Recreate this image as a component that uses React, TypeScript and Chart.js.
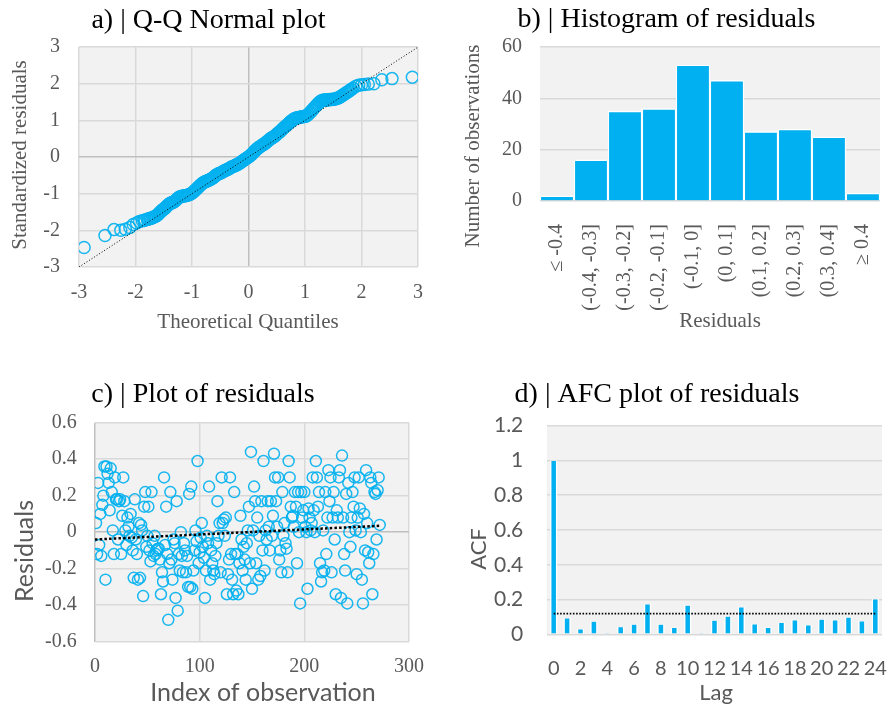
import React, { useEffect, useRef } from 'react';
import { Chart, registerables } from 'chart.js';
Chart.register(...registerables);

// ---------- DATA ----------
// a) Q-Q plot: [theoretical quantile, standardized residual]
const qqPairs = [
  [-2.91, -2.47], [-2.54, -2.14], [-2.38, -1.98], [-2.26, -2.0], [-2.18, -1.97], [-2.1, -1.92],
  [-2.04, -1.84], [-1.98, -1.8], [-1.93, -1.76], [-1.88, -1.74], [-1.85, -1.73], [-1.83, -1.72],
  [-1.79, -1.7], [-1.77, -1.69], [-1.75, -1.68], [-1.73, -1.67], [-1.71, -1.66], [-1.69, -1.65],
  [-1.67, -1.63], [-1.65, -1.62], [-1.63, -1.6], [-1.61, -1.58], [-1.6, -1.56], [-1.58, -1.53],
  [-1.56, -1.5], [-1.54, -1.47], [-1.53, -1.45], [-1.51, -1.43], [-1.5, -1.42], [-1.48, -1.4],
  [-1.47, -1.38], [-1.45, -1.35], [-1.44, -1.33], [-1.42, -1.31], [-1.41, -1.29], [-1.39, -1.27],
  [-1.38, -1.26], [-1.36, -1.25], [-1.35, -1.24], [-1.33, -1.23], [-1.32, -1.22],
  [-1.30, -1.2], [-1.28, -1.17], [-1.26, -1.14], [-1.24, -1.11], [-1.22, -1.09], [-1.20, -1.08],
  [-1.18, -1.07], [-1.16, -1.065], [-1.14, -1.06], [-1.12, -1.055], [-1.10, -1.05], [-1.08, -1.04],
  [-1.06, -1.03], [-1.04, -1.02], [-1.02, -1.0], [-1.00, -0.98], [-0.98, -0.96], [-0.96, -0.93],
  [-0.94, -0.9], [-0.92, -0.87], [-0.90, -0.84], [-0.88, -0.81], [-0.86, -0.78], [-0.84, -0.75],
  [-0.82, -0.72], [-0.80, -0.7], [-0.78, -0.68], [-0.76, -0.67], [-0.74, -0.66], [-0.72, -0.64],
  [-0.70, -0.63], [-0.68, -0.61], [-0.66, -0.6], [-0.64, -0.58], [-0.62, -0.56], [-0.60, -0.53],
  [-0.58, -0.5], [-0.56, -0.48], [-0.54, -0.46], [-0.52, -0.45], [-0.50, -0.44], [-0.48, -0.42],
  [-0.46, -0.41], [-0.44, -0.39], [-0.42, -0.37], [-0.40, -0.36], [-0.38, -0.34], [-0.36, -0.33],
  [-0.34, -0.31], [-0.32, -0.29], [-0.30, -0.27], [-0.28, -0.26], [-0.26, -0.25], [-0.24, -0.23],
  [-0.22, -0.22], [-0.20, -0.2], [-0.18, -0.19], [-0.16, -0.17], [-0.14, -0.15], [-0.12, -0.13],
  [-0.10, -0.1], [-0.08, -0.08], [-0.06, -0.06], [-0.04, -0.04], [-0.02, -0.02], [0.0, 0.0],
  [0.02, 0.03], [0.04, 0.05], [0.06, 0.08], [0.08, 0.11], [0.10, 0.15], [0.12, 0.18],
  [0.14, 0.21], [0.16, 0.23], [0.18, 0.26], [0.20, 0.28], [0.22, 0.3], [0.24, 0.32],
  [0.26, 0.34], [0.28, 0.36], [0.30, 0.38], [0.32, 0.41], [0.34, 0.44], [0.36, 0.46],
  [0.38, 0.49], [0.40, 0.51], [0.42, 0.53], [0.44, 0.55], [0.46, 0.57], [0.48, 0.59],
  [0.50, 0.62], [0.52, 0.65], [0.54, 0.67], [0.56, 0.7], [0.58, 0.73], [0.60, 0.76],
  [0.62, 0.79], [0.64, 0.82], [0.66, 0.84], [0.68, 0.87], [0.70, 0.9], [0.72, 0.93],
  [0.74, 0.96], [0.76, 0.98], [0.78, 1.01], [0.80, 1.03], [0.82, 1.05], [0.84, 1.06],
  [0.86, 1.07], [0.88, 1.075], [0.90, 1.08], [0.92, 1.09], [0.94, 1.095], [0.96, 1.1],
  [0.98, 1.105], [1.00, 1.11], [1.02, 1.12], [1.04, 1.14], [1.06, 1.17], [1.08, 1.2],
  [1.10, 1.23], [1.12, 1.27], [1.14, 1.3], [1.16, 1.34], [1.18, 1.37], [1.20, 1.4],
  [1.22, 1.44], [1.24, 1.47], [1.26, 1.5], [1.28, 1.52], [1.30, 1.54], [1.32, 1.55],
  [1.34, 1.555], [1.36, 1.56], [1.38, 1.56], [1.40, 1.56], [1.42, 1.565], [1.44, 1.57],
  [1.46, 1.57], [1.48, 1.57], [1.50, 1.575], [1.52, 1.58], [1.54, 1.59], [1.56, 1.6],
  [1.58, 1.61], [1.60, 1.62], [1.62, 1.64], [1.64, 1.66], [1.66, 1.68], [1.68, 1.7],
  [1.70, 1.72], [1.72, 1.74], [1.74, 1.76], [1.76, 1.78], [1.78, 1.8], [1.80, 1.82],
  [1.82, 1.85], [1.85, 1.88], [1.9, 1.93], [1.95, 1.96], [2.0, 1.97], [2.05, 1.98],
  [2.12, 1.99], [2.22, 2.0], [2.36, 2.11], [2.54, 2.14], [2.9, 2.18],
];
const qqDiagonal = [-3, 3];

// b) Histogram of residuals
const histBins = ['≤ -0.4', '(-0.4, -0.3]', '(-0.3, -0.2]', '(-0.2, -0.1]', '(-0.1, 0]', '(0, 0.1]', '(0.1, 0.2]', '(0.2, 0.3]', '(0.3, 0.4]', '≥ 0.4'];
const histCounts = [2, 16, 35, 36, 53, 47, 27, 28, 25, 3];

// c) Residuals by observation index (index = position + 1)
const residuals = [
  0.05, -0.12, 0.27, -0.07, 0.1, -0.13, 0.15, 0.2, 0.36, -0.26,
  0.36, 0.32, 0.27, 0.12, 0.35, 0.22, 0.01, -0.12, 0.3, 0.18,
  0.18, -0.04, 0.17, 0.18, -0.12, 0.09, 0.3, 0.17, 0.01, -0.07,
  0.08, 0.03, -0.02, 0.1, -0.03, -0.1, -0.25, 0.18, -0.04, -0.12,
  -0.26, 0.05, -0.25, 0.04, 0.01, -0.35, 0.14, 0.22, -0.08, -0.02,
  0.14, -0.1, -0.16, 0.22, -0.06, -0.13, -0.02, -0.12, -0.1, -0.09,
  -0.09, -0.15, -0.34, -0.22, -0.27, 0.3, -0.07, 0.14, -0.12, -0.48,
  -0.17, 0.22, -0.15, -0.26, -0.04, -0.06, -0.36, 0.17, -0.43, -0.12,
  -0.21, 0.0, -0.13, -0.22, -0.06, -0.1, -0.22, -0.13, -0.3, 0.21,
  -0.3, 0.25, -0.31, -0.21, -0.1, 0.01, -0.05, 0.39, -0.17, -0.11,
  -0.03, 0.05, -0.08, -0.14, -0.36, -0.21, -0.02, -0.06, 0.25, -0.26,
  -0.1, -0.17, -0.21, -0.23, -0.13, -0.06, 0.17, -0.02, 0.05, -0.22,
  0.3, 0.05, 0.07, -0.02, 0.08, -0.34, -0.23, -0.15, 0.3, -0.12,
  -0.26, -0.34, 0.22, -0.12, -0.32, -0.12, -0.34, -0.17, 0.09, -0.04,
  -0.21, -0.08, -0.15, -0.26, -0.06, 0.01, 0.14, -0.17, 0.44, -0.31,
  0.01, 0.25, 0.17, -0.17, 0.08, -0.26, -0.02, -0.24, 0.17, -0.1,
  0.39, -0.21, 0.01, -0.04, 0.17, 0.03, -0.1, 0.17, -0.02, 0.09,
  0.43, 0.3, 0.17, 0.03, 0.3, -0.15, -0.1, -0.22, 0.22, -0.02,
  0.05, -0.06, -0.09, -0.22, 0.39, 0.3, 0.14, 0.08, 0.09, 0.03,
  0.22, 0.14, -0.17, 0.22, 0.0, -0.39, 0.22, 0.08, 0.12, 0.22,
  0.03, 0.0, -0.31, 0.13, 0.08, 0.01, 0.05, 0.3, 0.12, 0.0,
  0.39, 0.3, 0.14, 0.22, -0.17, -0.27, -0.22, 0.01, -0.21, 0.22,
  -0.12, 0.08, 0.34, 0.17, 0.3, -0.22, 0.08, 0.22, -0.04, -0.34,
  0.12, 0.08, 0.3, 0.34, -0.36, 0.42, 0.08, -0.12, -0.21, 0.21,
  -0.39, 0.27, 0.0, -0.08, 0.08, 0.22, 0.14, 0.3, 0.01, -0.23,
  0.08, 0.3, 0.13, 0.0, -0.26, -0.39, 0.1, -0.1, 0.34, 0.05,
  -0.11, -0.17, 0.3, 0.27, -0.34, -0.12, 0.22, 0.21, -0.04, 0.23, 0.3, 0.04,
];
const trendX = [0, 272];
const trendY = [-0.04, 0.035];

// d) ACF
const lags = ['0', '1', '2', '3', '4', '5', '6', '7', '8', '9', '10', '11', '12', '13', '14', '15', '16', '17', '18', '19', '20', '21', '22', '23', '24'];
const acfValues = [1.0, 0.094, 0.031, 0.075, 0.008, 0.044, 0.058, 0.175, 0.058, 0.039, 0.168, 0.008, 0.081, 0.104, 0.158, 0.06, 0.04, 0.068, 0.083, 0.054, 0.087, 0.083, 0.098, 0.077, 0.204];
const acfBound = 0.119;

// ---------- STYLE ----------
const SERIF = "'Liberation Serif', 'Times New Roman', serif";
const SANS = "Lato, 'Noto Sans', sans-serif";
const GREY = '#595959';
const GRID = '#d9d9d9';
const GRID_DARK = '#bfbfbf';
const BLUE = '#00b0f0';
const PLOT_BG = '#f2f2f2';

const bgPlugin = {
  id: 'plotBg',
  beforeDraw(chart: any) {
    const { ctx, chartArea } = chart;
    ctx.save();
    ctx.fillStyle = PLOT_BG;
    ctx.fillRect(chartArea.left, chartArea.top, chartArea.right - chartArea.left, chartArea.bottom - chartArea.top);
    ctx.restore();
  },
};

function axisTitles(items: any[]) {
  return {
    id: 'axisTitles',
    afterDraw(chart: any) {
      const ctx = chart.ctx;
      for (const it of items) {
        ctx.save();
        ctx.translate(it.x, it.y);
        if (it.rot) ctx.rotate(it.rot);
        ctx.font = `${it.size}px ${it.family}`;
        ctx.fillStyle = GREY;
        ctx.textAlign = 'center';
        ctx.textBaseline = 'middle';
        ctx.fillText(it.text, 0, 0);
        ctx.restore();
      }
    },
  };
}

const zeroGrid = (ctx: any) => (ctx.tick && ctx.tick.value === 0 ? GRID_DARK : GRID);
const fmt1 = (v: any) => String(Math.round(Number(v) * 10) / 10);

function titleOpts(text: string, top: number, bottom: number) {
  return {
    display: true,
    text,
    color: '#000',
    font: { family: SERIF, size: 28, weight: 'normal' },
    padding: { top, bottom },
  };
}

// ---------- CONFIGS ----------
function configA() {
  return {
    type: 'scatter',
    data: {
      datasets: [
        {
          type: 'line',
          data: qqDiagonal.map((v) => ({ x: v, y: v })),
          borderColor: '#000',
          borderWidth: 1,
          borderDash: [1, 2],
          pointRadius: 0,
          fill: false,
          order: 0,
        },
        {
          data: qqPairs.map(([x, y]) => ({ x, y })),
          pointRadius: 6,
          pointBorderWidth: 1.5,
          pointBorderColor: 'rgba(0,176,240,0.9)',
          pointBackgroundColor: 'rgba(0,0,0,0)',
          order: 1,
        },
      ],
    },
    options: {
      animation: false,
      responsive: false,
      layout: { padding: { left: 0, right: 10, top: 0, bottom: 0 }, autoPadding: false },
      plugins: { legend: { display: false }, tooltip: { enabled: false }, title: titleOpts('a) | Q-Q Normal plot', 3.5, 10) },
      scales: {
        x: {
          type: 'linear', min: -3, max: 3,
          ticks: { stepSize: 1, color: GREY, font: { family: SERIF, size: 20 }, padding: 14 },
          grid: { color: zeroGrid, lineWidth: 1.5, drawTicks: false },
          border: { display: false },
          afterFit: (s: any) => { s.height = 73; },
        },
        y: {
          type: 'linear', min: -3, max: 3,
          ticks: { stepSize: 1, color: GREY, font: { family: SERIF, size: 20 }, padding: 19 },
          grid: { color: zeroGrid, lineWidth: 1.5, drawTicks: false },
          border: { display: false },
          afterFit: (s: any) => { s.width = 89; },
        },
      },
    },
    plugins: [bgPlugin, axisTitles([
      { text: 'Theoretical Quantiles', x: 258, y: 322.5, size: 21, family: SERIF },
      { text: 'Standardized residuals', x: 30, y: 155, size: 21, family: SERIF, rot: -Math.PI / 2 },
    ])],
  };
}

function configB() {
  return {
    type: 'bar',
    data: {
      labels: histBins,
      datasets: [{
        data: histCounts,
        backgroundColor: BLUE,
        borderColor: '#ffffff',
        borderWidth: 1.4,
        barPercentage: 1,
        categoryPercentage: 1,
      }],
    },
    options: {
      animation: false,
      responsive: false,
      layout: { padding: { left: 0, right: 1, top: 0, bottom: 0 }, autoPadding: false },
      plugins: { legend: { display: false }, tooltip: { enabled: false }, title: titleOpts('b) | Histogram of residuals', 3, 10.4) },
      scales: {
        x: {
          ticks: { autoSkip: false, minRotation: 90, maxRotation: 90, color: GREY, font: { family: SERIF, size: 20 }, padding: 15 },
          grid: { display: false },
          border: { display: false },
          afterFit: (s: any) => { s.height = 139; },
        },
        y: {
          min: 0, max: 60,
          ticks: { stepSize: 10, color: GREY, font: { family: SERIF, size: 20 }, padding: 18 },
          grid: { color: GRID, lineWidth: 1.5, drawTicks: false },
          border: { display: false },
          afterFit: (s: any) => { s.width = 108; },
        },
      },
    },
    plugins: [bgPlugin, axisTitles([
      { text: 'Residuals', x: 288, y: 321.5, size: 21, family: SERIF },
      { text: 'Number of observations', x: 41, y: 146, size: 21, family: SERIF, rot: -Math.PI / 2 },
    ])],
  };
}

function configC() {
  return {
    type: 'scatter',
    data: {
      datasets: [
        {
          type: 'line',
          data: trendX.map((x, i) => ({ x, y: trendY[i] })),
          borderColor: '#000',
          borderWidth: 2.5,
          borderDash: [2.5, 2.2],
          pointRadius: 0,
          fill: false,
          order: 0,
        },
        {
          data: residuals.map((r, i) => ({ x: i + 1, y: r })),
          pointRadius: 5.5,
          pointBorderWidth: 1.5,
          pointBorderColor: 'rgba(0,176,240,0.9)',
          pointBackgroundColor: 'rgba(0,0,0,0)',
          order: 1,
        },
      ],
    },
    options: {
      animation: false,
      responsive: false,
      layout: { padding: { left: 0, right: 21, top: 0, bottom: 0 }, autoPadding: false },
      plugins: { legend: { display: false }, tooltip: { enabled: false }, title: titleOpts('c) | Plot of residuals', 8, 11.1) },
      scales: {
        x: {
          type: 'linear', min: 0, max: 300,
          ticks: { stepSize: 100, color: GREY, font: { family: SERIF, size: 20 }, padding: 13 },
          grid: { color: zeroGrid, lineWidth: 1.5, drawTicks: false },
          border: { display: false },
          afterFit: (s: any) => { s.height = 66.3; },
        },
        y: {
          type: 'linear', min: -0.6, max: 0.6,
          ticks: { stepSize: 0.2, color: GREY, font: { family: SERIF, size: 20 }, padding: 18.3, callback: fmt1 },
          grid: { color: zeroGrid, lineWidth: 1.5, drawTicks: false },
          border: { display: false },
          afterFit: (s: any) => { s.width = 105; },
        },
      },
    },
    plugins: [bgPlugin, axisTitles([
      { text: 'Index of observation', x: 273, y: 323, size: 25, family: SANS },
      { text: 'Residuals', x: 35, y: 181, size: 25, family: SANS, rot: -Math.PI / 2 },
    ])],
  };
}

function configD() {
  return {
    type: 'bar',
    data: {
      labels: lags,
      datasets: [
        {
          type: 'line',
          data: [{ x: lags[0], y: acfBound }, { x: lags[lags.length - 1], y: acfBound }],
          borderColor: '#000',
          borderWidth: 1.6,
          borderDash: [1.6, 1.6],
          pointRadius: 0,
          fill: false,
          order: 0,
        },
        {
          data: acfValues,
          backgroundColor: BLUE,
          borderColor: '#ffffff',
          borderWidth: { left: 1.5, right: 1.5, top: 0.6, bottom: 0 },
          barPercentage: 0.56,
          categoryPercentage: 1,
          order: 1,
        },
      ],
    },
    options: {
      animation: false,
      responsive: false,
      layout: { padding: { left: 0, right: 20, top: 0, bottom: 0 }, autoPadding: false },
      plugins: { legend: { display: false }, tooltip: { enabled: false }, title: titleOpts('d) | AFC plot of residuals', 8, 14.1) },
      scales: {
        x: {
          ticks: {
            autoSkip: false, maxRotation: 0, minRotation: 0, color: GREY,
            font: { family: SANS, size: 20 }, padding: 14,
            callback: (_v: any, i: number) => (i % 2 === 0 ? lags[i] : ''),
          },
          grid: { display: false },
          border: { display: false },
          afterFit: (s: any) => { s.height = 73.7; },
        },
        y: {
          min: 0, max: 1.2,
          ticks: { stepSize: 0.2, color: GREY, font: { family: SANS, size: 21 }, padding: 23.7, callback: fmt1 },
          grid: { color: GRID, lineWidth: 1.5, drawTicks: false },
          border: { display: false },
          afterFit: (s: any) => { s.width = 115; },
        },
      },
    },
    plugins: [bgPlugin, axisTitles([
      { text: 'Lag', x: 284, y: 323, size: 22, family: SANS },
      { text: 'ACF', x: 47, y: 179, size: 22, family: SANS, rot: -Math.PI / 2 },
    ])],
  };
}

function Panel({ left, top, width, height, make }: any) {
  const ref = useRef<HTMLCanvasElement | null>(null);
  useEffect(() => {
    const chart = new Chart(ref.current as any, make() as any);
    return () => chart.destroy();
  }, []);
  return (
    <canvas
      ref={ref}
      width={width}
      height={height}
      style={{ position: 'absolute', left, top, width, height }}
    />
  );
}

export default function App() {
  return (
    <div style={{ position: 'absolute', left: 0, top: 0, width: 893, height: 708, overflow: 'hidden', background: '#fff' }}>
      <Panel left={-10} top={0} width={447} height={340} make={configA} />
      <Panel left={432} top={0} width={470} height={340} make={configB} />
      <Panel left={-10} top={370} width={447} height={338} make={configC} />
      <Panel left={432} top={370} width={470} height={338} make={configD} />
    </div>
  );
}
